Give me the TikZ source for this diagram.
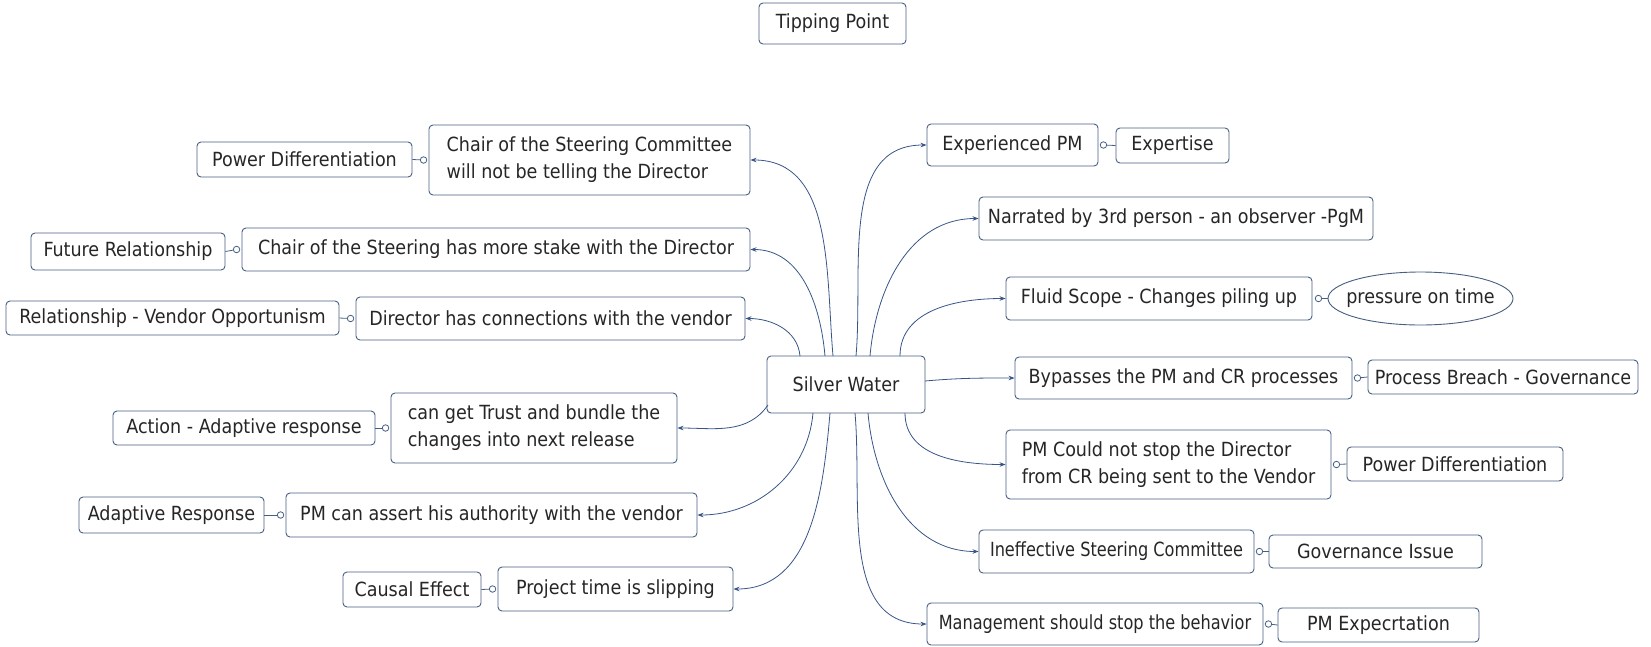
\documentclass[tikz,border=0pt]{standalone}
\usepackage{fontspec}
\setmainfont{DejaVu Sans Condensed}
\usetikzlibrary{arrows.meta,shapes.geometric}

\definecolor{frame}{RGB}{70,95,130}
\definecolor{wire}{RGB}{55,85,135}

\tikzset{
  box/.style={draw=frame, line width=0.9pt, rounded corners=4pt, fill=white,
              inner sep=2pt, align=left, text=black!85,
              font=\fontsize{19.5}{27}\selectfont},
  oval/.style={box, ellipse, rounded corners=0pt},
  branch/.style={draw=wire, line width=0.8pt, -{Stealth[length=6pt,width=4.5pt]}},
  tie/.style={draw=frame, line width=0.8pt},
  knob/.style={circle, draw=frame, line width=0.8pt, fill=white,
               minimum size=6.5pt, inner sep=0pt}
}

% box from its left/top and right/bottom edges (px units)
\newcommand\boxnode[6]{%
  \node[box, minimum width={#4-#2}, minimum height={#5-#3}]
    (#1) at ({(#2+#4)/2},{(#3+#5)/2}) {#6};}
% slightly narrowed lettering for the longest single-line labels
\newcommand\narrowtext[1]{\scalebox{0.92}[1]{#1}}

\begin{document}
\begin{tikzpicture}[x=1pt,y=-1pt]
\useasboundingbox (0,0) rectangle (1651,646);

% title
\boxnode{tip}{759}{3}{906}{44}{Tipping Point}

% central topic
\boxnode{sw}{767}{356}{925}{413}{Silver Water}

% left branches
\boxnode{chairA}{429}{125}{750}{195}{Chair of the Steering Committee\\will not be telling the Director}
\boxnode{pdL}{197}{142}{412}{177}{Power Differentiation}
\boxnode{chairB}{242}{228}{750}{271}{Chair of the Steering has more stake with the Director}
\boxnode{futRel}{31}{233}{225}{270}{Future Relationship}
\boxnode{dirCon}{356}{297}{745}{340}{Director has connections with the vendor}
\boxnode{relVO}{6}{301}{339}{335}{Relationship - Vendor Opportunism}
\boxnode{trust}{391}{393}{677}{463}{can get Trust and bundle the\\changes into next release}
\boxnode{actAR}{113}{411}{375}{445}{Action - Adaptive response}
\boxnode{pmAss}{286}{493}{697}{537}{PM can assert his authority with the vendor}
\boxnode{adRes}{79}{497}{264}{533}{Adaptive Response}
\boxnode{slip}{498}{567}{733}{611}{Project time is slipping}
\boxnode{causal}{343}{572}{481}{607}{Causal Effect}

% right branches
\boxnode{expPM}{927}{124}{1098}{166}{Experienced PM}
\boxnode{expertise}{1116}{128}{1229}{163}{Expertise}
\boxnode{narr}{979}{197}{1373}{240}{Narrated by 3rd person - an observer -PgM}
\boxnode{fluid}{1006}{277}{1312}{320}{Fluid Scope - Changes piling up}
\node[oval, minimum width=185, minimum height=53] (press) at (1420.5,298.5)
  {\makebox[0pt]{pressure on time}};
\boxnode{bypass}{1015}{357}{1352}{399}{Bypasses the PM and CR processes}
\boxnode{breach}{1368}{360}{1638}{394}{Process Breach - Governance}
\boxnode{pmCould}{1006}{430}{1331}{499}{PM Could not stop the Director\\from CR being sent to the Vendor}
\boxnode{pdR}{1347}{447}{1563}{481}{Power Differentiation}
\boxnode{ineff}{979}{530}{1254}{573}{\narrowtext{Ineffective Steering Committee}}
\boxnode{govIss}{1269}{535}{1482}{568}{Governance Issue}
\boxnode{mgmt}{927}{603}{1263}{645}{\narrowtext{Management should stop the behavior}}
\boxnode{pmExp}{1278}{608}{1479}{642}{PM Expecrtation}

% where the branches leave the central topic
\coordinate (oDir)    at (800,356);
\coordinate (oChairB) at (825,356);
\coordinate (oChairA) at (833,356);
\coordinate (oExp)    at (856,356);
\coordinate (oNarr)   at (870,356);
\coordinate (oFluid)  at (900,356);
\coordinate (oBy)     at (925,381);
\coordinate (oTrust)  at (768,405);
\coordinate (oAss)    at (813,413);
\coordinate (oSlip)   at (830,413);
\coordinate (oMgmt)   at (855,413);
\coordinate (oIneff)  at (868,413);
\coordinate (oCould)  at (905,413);

% curved branches
\draw[branch] (oChairA) to[out=95,in=0]  (chairA.east);
\draw[branch] (oChairB) to[out=95,in=0]  (chairB.east);
\draw[branch] (oDir)    to[out=95,in=0]  (dirCon.east);
\draw[branch] (oTrust)  to[out=235,in=0] (trust.east);
\draw[branch] (oAss)    to[out=265,in=0] (pmAss.east);
\draw[branch] (oSlip)   to[out=265,in=0] (slip.east);
\draw[branch] (oExp)    to[out=85,in=180]  (expPM.west);
\draw[branch] (oNarr)   to[out=85,in=180]  (narr.west);
\draw[branch] (oFluid)  to[out=90,in=180]  (fluid.west);
\draw[branch] (oBy)     to[out=5,in=180]   (bypass.west);
\draw[branch] (oCould)  to[out=270,in=180] (pmCould.west);
\draw[branch] (oIneff)  to[out=275,in=180] (ineff.west);
\draw[branch] (oMgmt)   to[out=275,in=180] (mgmt.west);

% attached notes on the left
\node[knob] (kChairA) at ([xshift=-5pt]chairA.west) {};
\node[knob] (kChairB) at ([xshift=-5pt]chairB.west) {};
\node[knob] (kDir)    at ([xshift=-5pt]dirCon.west) {};
\node[knob] (kTrust)  at ([xshift=-5pt]trust.west) {};
\node[knob] (kAss)    at ([xshift=-5pt]pmAss.west) {};
\node[knob] (kSlip)   at ([xshift=-5pt]slip.west) {};
\draw[tie] (pdL.east)    -- (kChairA);
\draw[tie] (futRel.east) -- (kChairB);
\draw[tie] (relVO.east)  -- (kDir);
\draw[tie] (actAR.east)  -- (kTrust);
\draw[tie] (adRes.east)  -- (kAss);
\draw[tie] (causal.east) -- (kSlip);

% attached notes on the right
\node[knob] (kExp)   at ([xshift=5pt]expPM.east) {};
\node[knob] (kFluid) at ([xshift=6pt]fluid.east) {};
\node[knob] (kBy)    at ([xshift=5pt]bypass.east) {};
\node[knob] (kCould) at ([xshift=5pt]pmCould.east) {};
\node[knob] (kIneff) at ([xshift=5pt]ineff.east) {};
\node[knob] (kMgmt)  at ([xshift=5pt]mgmt.east) {};
\draw[tie] (kExp)   -- (expertise.west);
\draw[tie] (kFluid) -- (press.west);
\draw[tie] (kBy)    -- (breach.west);
\draw[tie] (kCould) -- (pdR.west);
\draw[tie] (kIneff) -- (govIss.west);
\draw[tie] (kMgmt)  -- (pmExp.west);
\end{tikzpicture}
\end{document}
